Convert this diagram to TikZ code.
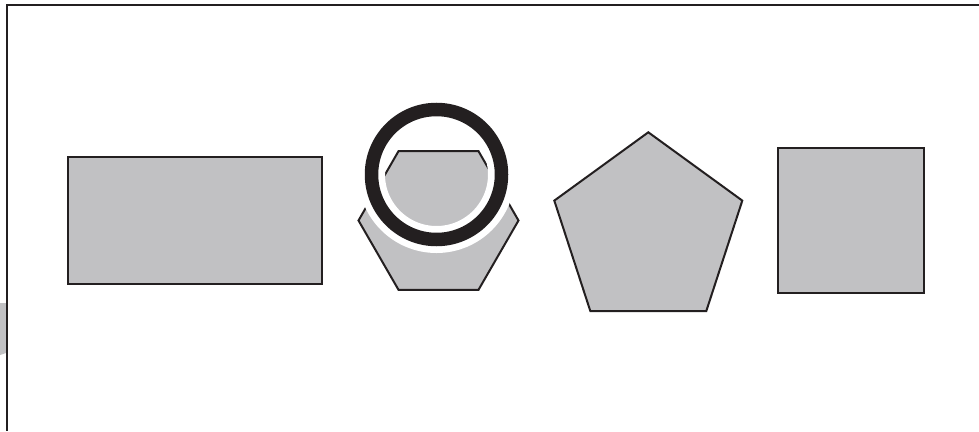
\documentclass[tikz,border=0pt]{standalone}
\usepackage{tikz}
\usepackage{xcolor}
\usetikzlibrary{calc}

\definecolor{inkline}{HTML}{231F20}
\definecolor{shapegray}{HTML}{C1C1C3}

\begin{document}
\begin{tikzpicture}[x=1pt,y=-1pt,
		shapebox/.style={draw=inkline, fill=shapegray, line width=2pt, line join=miter}]
			\useasboundingbox (0,0) rectangle (979,431);
			
			% 边框（上边与左边）
			\fill[shapegray] (0,303) -- (6,303) -- (6,353) -- (0,355) -- cycle;
			\draw[inkline, line width=1.5pt] (979,5) -- (7,5) -- (7,431);
			
			% 长方形
			\draw[shapebox] (68,157) rectangle (322,284);
			
			% 六边形，上面压着一个圆环
			\draw[shapebox] (358.5,220.5) -- (398.5,151.2) -- (478.5,151.2)
				-- (518.5,220.5) -- (478.5,289.8) -- (398.5,289.8) -- cycle;
			\draw[white, line width=27pt] (436.5,174.5) circle (65);
			\draw[inkline, line width=13.5pt] (436.5,174.5) circle (65);
			
			% 正五边形
			\draw[shapebox] (648.3,132.3) -- (742.3,200.6) -- (706.3,311)
				-- (590.3,311) -- (554.3,200.6) -- cycle;
			
			% 正方形
			\draw[shapebox] (778,148) rectangle (924,293);
		\end{tikzpicture}
\end{document}
